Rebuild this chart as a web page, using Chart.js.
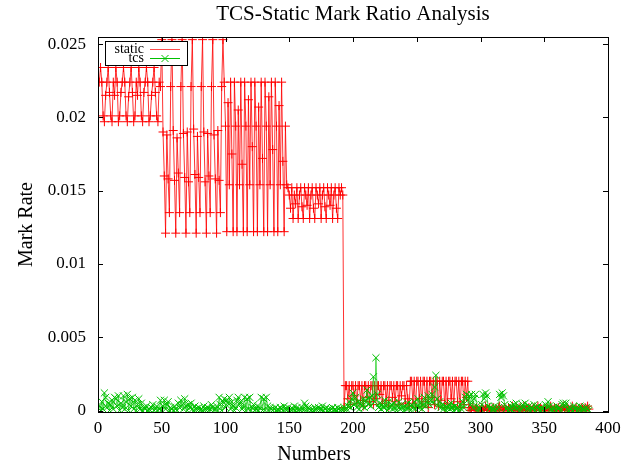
<!DOCTYPE html>
<html>
<head>
<meta charset="utf-8">
<title>TCS-Static Mark Ratio Analysis</title>
<script src="https://cdn.jsdelivr.net/npm/chart.js@4/dist/chart.umd.min.js"></script>
<style>
    body { margin: 0; background: #fff; }
    #wrap { width: 621px; height: 467px; }
</style>
</head>
<body>
<div id="wrap"><canvas id="markChart" width="621" height="467"></canvas></div>
<script>
const chartTitle = "TCS-Static Mark Ratio Analysis";
const xTitle = "Numbers";
const yTitle = "Mark Rate";
const seriesNames = ["static", "tcs"];
const xTicks = [0, 50, 100, 150, 200, 250, 300, 350, 400];
const yTicks = [0, 0.005, 0.01, 0.015, 0.02, 0.025];
const yTickLabels = ["0", "0.005", "0.01", "0.015", "0.02", "0.025"];

// static mark rate, one value per sample number (1..385)
const staticRate = [
    0.0224,0.0234,0.0224,0.0201,0.0197,0.0215, 0.0224,0.0234,0.0217,0.0201,0.0197,0.0224,
    0.0215,0.0234,0.0224,0.0197,0.0201,0.0217, 0.0224,0.0234,0.0224,0.0201,0.0197,0.0214,
    0.0224,0.0234,0.0217,0.0197,0.0201,0.0224, 0.0215,0.0234,0.0224,0.0201,0.0197,0.0217,
    0.0224,0.0234,0.0224,0.0197,0.0201,0.0215, 0.0224,0.0234,0.0217,0.0201,0.0197,0.0224,
    0.0221,0.0253,0.0190,0.0160,0.0121,0.0188,0.0158,0.0135,
    0.0221,0.0253,0.0191,0.0157,0.0121,0.0186,0.0162,0.0135,
    0.0221,0.0253,0.0189,0.0159,0.0121,0.0190,0.0156,0.0135,
    0.0221,0.0253,0.0192,0.0161,0.0121,0.0187,0.0159,0.0135,
    0.0221,0.0253,0.0190,0.0156,0.0121,0.0189,0.0160,0.0135,
    0.0221,0.0253,0.0188,0.0158,0.0121,0.0191,0.0157,0.0135,0.0221,0.0253,
    0.0224,0.0194,0.0122,0.0210,0.0154,0.0224,0.0175,0.0122,
    0.0224,0.0194,0.0122,0.0205,0.0154,0.0224,0.0168,0.0122,
    0.0224,0.0194,0.0122,0.0212,0.0154,0.0224,0.0180,0.0122,
    0.0224,0.0194,0.0122,0.0207,0.0154,0.0224,0.0172,0.0122,
    0.0224,0.0194,0.0122,0.0214,0.0154,0.0224,0.0178,0.0122,
    0.0224,0.0194,0.0122,0.0208,0.0154,0.0224,0.0170,0.0122,0.0194,0.0154,
    0.0152,0.0147,0.0138,0.0152,0.0131,0.0147,0.0141,0.0152,
    0.0131,0.0147,0.0152,0.0139,0.0131,0.0152,0.0147,0.0140,
    0.0152,0.0131,0.0147,0.0152,0.0138,0.0131,0.0152,0.0147,
    0.0141,0.0152,0.0131,0.0147,0.0152,0.0139,0.0131,0.0152,
    0.0147,0.0140,0.0152,0.0131,0.0147,0.0152,0.0138,0.0131,
    0.0152,0.0147,0.0152,0.0147,
    0.0002,
    0.0017,0.0017,0.0008,0.0017,0.0004,0.0017,0.0017,0.0010,0.0017,0.0005,
    0.0017,0.0017,0.0007,0.0017,0.0003,0.0017,0.0017,0.0009,0.0017,0.0006,
    0.0017,0.0017,0.0004,0.0017,0.0008,0.0017,0.0017,0.0011,0.0017,0.0005,
    0.0017,0.0017,0.0007,0.0017,0.0003,0.0017,0.0017,0.0009,0.0017,0.0006,
    0.0017,0.0017,0.0004,0.0017,0.0010,0.0017,0.0017,0.0005,0.0017,0.0008,
    0.0003,
    0.0020,0.0020,0.0005,0.0020,0.0002,0.0020,0.0020,0.0008,0.0020,0.0003,
    0.0020,0.0020,0.0006,0.0020,0.0002,0.0020,0.0020,0.0009,0.0020,0.0004,
    0.0020,0.0020,0.0003,0.0020,0.0007,0.0020,0.0020,0.0002,0.0020,0.0005,
    0.0020,0.0020,0.0008,0.0020,0.0003,0.0020,0.0020,0.0006,0.0020,0.0002,
    0.0020,0.0020,0.0004,0.0020,0.0009,0.0020,
    0.0002,0.0000,0.0001,0.0003,0.0000,0.0001,0.0002,0.0000,0.0001,0.0000,
    0.0002,0.0001,0.0000,0.0003,0.0001,0.0000,0.0002,0.0000,0.0001,0.0002,
    0.0000,0.0001,0.0000,0.0002,0.0003,0.0000,0.0001,0.0000,0.0002,0.0001,
    0.0000,0.0002,0.0001,0.0000,0.0003,0.0001,0.0000,0.0002,0.0000,0.0001,
    0.0002,0.0000,0.0001,0.0003,0.0000,0.0001,0.0000,0.0002,0.0001,0.0000,
    0.0001,0.0002,0.0000,0.0001,0.0003,0.0000,0.0002,0.0001,0.0000,0.0001,
    0.0000,0.0002,0.0001,0.0000,0.0003,0.0001,0.0000,0.0002,0.0000,0.0001,
    0.0002,0.0000,0.0001,0.0000,0.0003,0.0001,0.0000,0.0002,0.0001,0.0000,
    0.0001,0.0003,0.0000,0.0001,0.0002,0.0000,0.0001,0.0000,0.0002,0.0001,
    0.0000,0.0002,0.0001,0.0003,0.0001
];

// tcs mark rate, same sample numbers
const tcsRate = [
    0.0003,0.0000,0.0006,0.0001,0.0012,0.0009,0.0002,0.0005,0.0000,0.0004,
    0.0007,0.0001,0.0009,0.0008,0.0003,0.0010,0.0000,0.0005,0.0002,0.0010,
    0.0001,0.0006,0.0011,0.0000,0.0008,0.0003,0.0009,0.0001,0.0007,0.0000,
    0.0004,0.0008,0.0001,0.0005,0.0000,0.0002,0.0001,0.0003,0.0000,0.0001,
    0.0000,0.0002,0.0004,0.0000,0.0001,0.0003,0.0000,0.0001,0.0007,0.0000,
    0.0003,0.0007,0.0001,0.0004,0.0006,0.0000,0.0002,0.0001,0.0000,0.0003,
    0.0001,0.0000,0.0005,0.0002,0.0007,0.0004,0.0001,0.0008,0.0003,0.0000,
    0.0004,0.0002,0.0005,0.0001,0.0000,0.0003,0.0001,0.0000,0.0002,0.0000,
    0.0001,0.0000,0.0003,0.0001,0.0000,0.0002,0.0000,0.0001,0.0004,0.0002,
    0.0000,0.0001,0.0003,0.0000,0.0009,0.0004,0.0000,0.0006,0.0008,0.0002,
    0.0007,0.0005,0.0009,0.0001,0.0006,0.0003,0.0000,0.0002,0.0007,0.0009,
    0.0004,0.0006,0.0001,0.0003,0.0009,0.0000,0.0008,0.0001,0.0009,0.0000,
    0.0002,0.0004,0.0000,0.0001,0.0003,0.0000,0.0002,0.0009,0.0000,0.0008,
    0.0000,0.0009,0.0003,0.0000,0.0002,0.0001,0.0000,0.0001,0.0002,0.0000,
    0.0001,0.0000,0.0002,0.0001,0.0000,0.0003,0.0001,0.0000,0.0002,0.0000,
    0.0001,0.0000,0.0001,0.0003,0.0000,0.0002,0.0000,0.0001,0.0000,0.0002,
    0.0000,0.0005,0.0003,0.0000,0.0002,0.0001,0.0000,0.0001,0.0000,0.0002,
    0.0001,0.0000,0.0002,0.0000,0.0001,0.0003,0.0000,0.0001,0.0002,0.0000,
    0.0001,0.0000,0.0001,0.0002,0.0000,0.0001,0.0000,0.0002,0.0001,0.0000,
    0.0001,0.0000,0.0002,0.0000,0.0001,0.0003,0.0006,0.0002,0.0008,0.0012,
    0.0004,0.0009,0.0002,0.0006,0.0001,0.0005,0.0003,0.0008,0.0002,0.0007,
    0.0014,0.0004,0.0009,0.0003,0.0010,0.0023,0.0006,0.0036,0.0011,0.0002,
    0.0005,0.0001,0.0004,0.0002,0.0007,0.0003,0.0000,0.0006,0.0002,0.0004,
    0.0001,0.0005,0.0002,0.0000,0.0003,0.0006,0.0001,0.0004,0.0002,0.0000,
    0.0003,0.0001,0.0005,0.0002,0.0000,0.0004,0.0002,0.0006,0.0001,0.0003,
    0.0008,0.0002,0.0005,0.0001,0.0004,0.0009,0.0003,0.0006,0.0010,0.0004,
    0.0007,0.0011,0.0005,0.0016,0.0024,0.0008,0.0003,0.0006,0.0002,0.0004,
    0.0001,0.0003,0.0000,0.0002,0.0004,0.0001,0.0005,0.0002,0.0000,0.0003,
    0.0001,0.0002,0.0000,0.0004,0.0001,0.0006,0.0002,0.0009,0.0011,0.0007,
    0.0010,0.0004,0.0011,0.0002,0.0008,0.0011,0.0003,0.0000,0.0002,0.0001,
    0.0004,0.0011,0.0008,0.0012,0.0010,0.0003,0.0001,0.0002,0.0000,0.0001,
    0.0003,0.0000,0.0001,0.0002,0.0011,0.0009,0.0012,0.0010,0.0004,0.0001,
    0.0002,0.0000,0.0001,0.0003,0.0000,0.0004,0.0002,0.0005,0.0001,0.0003,
    0.0000,0.0001,0.0004,0.0002,0.0005,0.0000,0.0001,0.0003,0.0000,0.0002,
    0.0001,0.0004,0.0000,0.0002,0.0003,0.0001,0.0000,0.0002,0.0001,0.0000,
    0.0004,0.0002,0.0006,0.0003,0.0001,0.0000,0.0002,0.0001,0.0000,0.0003,
    0.0001,0.0002,0.0000,0.0004,0.0005,0.0003,0.0005,0.0001,0.0000,0.0002,
    0.0001,0.0000,0.0003,0.0001,0.0002,0.0000,0.0001,0.0003,0.0000,0.0002,
    0.0001,0.0000,0.0002,0.0001,0.0000
];

const serif = '"Liberation Serif", "Times New Roman", serif';
const toPoints = vals => vals.map((v, i) => ({ x: i + 1, y: v }));

// white page, gnuplot-style frame with inward ticks, titles and boxed key
const gnuplotLook = {
    id: "gnuplotLook",
    beforeDraw(chart) {
        const ctx = chart.ctx;
        ctx.save();
        ctx.fillStyle = "#fff";
        ctx.fillRect(0, 0, chart.width, chart.height);
        ctx.restore();
    },
    afterDatasetsDraw(chart) {
        const { ctx, chartArea: a, scales } = chart;
        ctx.save();
        ctx.strokeStyle = "#000";
        ctx.lineWidth = 1;
        ctx.strokeRect(Math.round(a.left) + 0.5, Math.round(a.top) + 0.5,
            Math.round(a.right - a.left), Math.round(a.bottom - a.top));
        ctx.beginPath();
        xTicks.forEach(v => {
            const px = Math.round(scales.x.getPixelForValue(v)) + 0.5;
            ctx.moveTo(px, a.bottom); ctx.lineTo(px, a.bottom - 5);
            ctx.moveTo(px, a.top); ctx.lineTo(px, a.top + 5);
        });
        yTicks.forEach(v => {
            const py = Math.round(scales.y.getPixelForValue(v)) + 0.5;
            ctx.moveTo(a.left, py); ctx.lineTo(a.left + 5, py);
            ctx.moveTo(a.right, py); ctx.lineTo(a.right - 5, py);
        });
        ctx.stroke();

        // titles
        ctx.fillStyle = "#000";
        ctx.textAlign = "center";
        ctx.textBaseline = "middle";
        ctx.font = "21px " + serif;
        ctx.fillText(chartTitle, (a.left + a.right) / 2, 14);
        ctx.font = "20px " + serif;
        ctx.fillText(xTitle, 314, 455);
        ctx.save();
        ctx.translate(27, (a.top + a.bottom) / 2);
        ctx.rotate(-Math.PI / 2);
        ctx.fillText(yTitle, 0, 0);
        ctx.restore();

        // key box
        const kx = a.left + 7, ky = a.top + 4, kw = 82, kh = 24;
        ctx.fillStyle = "#fff";
        ctx.fillRect(kx, ky, kw, kh);
        ctx.strokeRect(kx + 0.5, ky + 0.5, kw, kh);
        ctx.fillStyle = "#000";
        ctx.font = "14px " + serif;
        ctx.textAlign = "right";
        ctx.fillText(seriesNames[0], kx + 39, ky + 8);
        ctx.fillText(seriesNames[1], kx + 39, ky + 17);
        ctx.beginPath();
        ctx.strokeStyle = "rgba(255,0,0,0.7)";
        ctx.moveTo(kx + 45, ky + 8.5); ctx.lineTo(kx + 75, ky + 8.5);
        ctx.stroke();
        ctx.beginPath();
        ctx.strokeStyle = "#00c000";
        ctx.moveTo(kx + 45, ky + 17.5); ctx.lineTo(kx + 75, ky + 17.5);
        const cx = kx + 60, cy = ky + 17.5;
        ctx.moveTo(cx - 3.5, cy - 3.5); ctx.lineTo(cx + 3.5, cy + 3.5);
        ctx.moveTo(cx - 3.5, cy + 3.5); ctx.lineTo(cx + 3.5, cy - 3.5);
        ctx.stroke();
        ctx.restore();
    }
};

const ctx = document.getElementById("markChart").getContext("2d");
new Chart(ctx, {
    type: "line",
    data: {
        datasets: [{
            label: seriesNames[1],
            data: toPoints(tcsRate),
            borderColor: "rgba(0,200,0,0.65)",
            backgroundColor: "#00c000",
            pointBorderColor: "#00c000",
            borderWidth: 1,
            pointStyle: "crossRot",
            pointRadius: 5,
            pointBorderWidth: 1,
            tension: 0,
            order: 0
        }, {
            label: seriesNames[0],
            data: toPoints(staticRate),
            borderColor: "rgba(255,0,0,0.8)",
            backgroundColor: "#ff0000",
            pointBorderColor: "#ff0000",
            borderWidth: 1,
            pointStyle: "cross",
            pointRadius: 4.5,
            pointBorderWidth: 1,
            tension: 0,
            order: 1
        }]
    },
    options: {
        responsive: false,
        animation: false,
        events: [],
        layout: { padding: { top: 37, right: 13, left: 0, bottom: 0 } },
        plugins: {
            legend: { display: false },
            tooltip: { enabled: false },
            title: { display: false }
        },
        scales: {
            x: {
                type: "linear",
                min: 0,
                max: 400,
                afterBuildTicks: scale => { scale.ticks = xTicks.map(v => ({ value: v })); },
                afterFit: scale => { scale.height = 55; scale.paddingLeft = 0; scale.paddingRight = 0; },
                grid: { display: false, drawTicks: false },
                border: { display: false },
                ticks: { color: "#000", font: { family: serif, size: 17 }, padding: 6, maxRotation: 0, autoSkip: false }
            },
            y: {
                type: "linear",
                min: -0.0001,
                max: 0.02548,
                afterBuildTicks: scale => { scale.ticks = yTicks.map(v => ({ value: v })); },
                afterFit: scale => { scale.width = 98; scale.paddingTop = 0; scale.paddingBottom = 0; },
                grid: { display: false, drawTicks: false },
                border: { display: false },
                ticks: {
                    color: "#000",
                    font: { family: serif, size: 17 },
                    padding: 12,
                    callback: value => yTickLabels[yTicks.indexOf(value)]
                }
            }
        }
    },
    plugins: [gnuplotLook]
});
</script>
</body>
</html>
